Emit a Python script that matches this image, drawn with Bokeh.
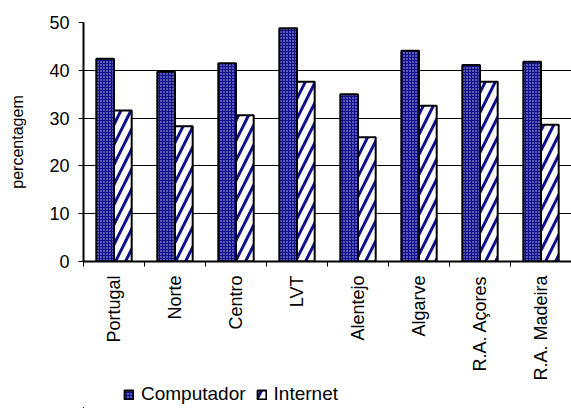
import math
from bokeh.plotting import figure
from bokeh.layouts import column
from bokeh.models import ColumnDataSource, FixedTicker, Legend, LegendItem, Range1d
from bokeh.embed import file_html
from bokeh.resources import INLINE

regions = ["Portugal", "Norte", "Centro", "LVT", "Alentejo", "Algarve", "R.A. Açores", "R.A. Madeira"]
computador = [42.4, 39.7, 41.5, 48.8, 35.0, 44.1, 41.1, 41.8]
internet = [31.6, 28.3, 30.6, 37.6, 26.0, 32.6, 37.6, 28.6]
y_ticks = [0, 10, 20, 30, 40, 50]

FONT = "Liberation Sans"
NAVY = "#10108c"

idx = list(range(len(regions)))
src = ColumnDataSource(dict(
    xc=[i - 0.145 for i in idx],
    xi=[i + 0.145 for i in idx],
    comp=computador,
    inet=internet,
))

COMP_STYLE = dict(fill_color=NAVY, hatch_pattern="dot", hatch_color="#c8c8f0",
                  hatch_scale=3, hatch_weight=1, line_color="black", line_width=2)
INET_STYLE = dict(fill_color="white", hatch_pattern="/", hatch_color=NAVY,
                  hatch_scale=20, hatch_weight=3, line_color="black", line_width=2)

p = figure(width=571, height=383, output_backend="svg", toolbar_location=None,
           x_range=Range1d(-0.5, len(regions) - 0.5), y_range=Range1d(0, 50),
           min_border_left=83, min_border_right=0, min_border_top=22, min_border_bottom=122)
p.outline_line_color = None
p.background_fill_color = "white"
p.border_fill_color = "white"

p.vbar(x="xc", top="comp", width=0.29, source=src, **COMP_STYLE)
p.vbar(x="xi", top="inet", width=0.29, source=src, **INET_STYLE)

# axes
p.xgrid.grid_line_color = None
p.ygrid.grid_line_color = "black"
p.ygrid.grid_line_width = 1
p.ygrid.ticker = FixedTicker(ticks=y_ticks)

p.yaxis.ticker = FixedTicker(ticks=y_ticks)
p.yaxis.axis_label = "percentagem"
p.yaxis.axis_label_text_font = FONT
p.yaxis.axis_label_text_font_size = "16px"
p.yaxis.axis_label_text_font_style = "normal"
p.yaxis.axis_label_text_color = "black"
p.yaxis.axis_label_standoff = 20
p.yaxis.major_label_text_font = FONT
p.yaxis.major_label_text_font_size = "18px"
p.yaxis.major_label_text_color = "black"
p.yaxis.major_label_standoff = 9
p.yaxis.axis_line_color = "black"
p.yaxis.axis_line_width = 2
p.yaxis.major_tick_line_color = "black"
p.yaxis.major_tick_out = 5
p.yaxis.major_tick_in = 0
p.yaxis.minor_tick_line_color = None

p.xaxis.ticker = FixedTicker(ticks=idx, minor_ticks=[i - 0.5 for i in range(len(regions) + 1)])
p.xaxis.major_label_overrides = {i: r for i, r in enumerate(regions)}
p.xaxis.major_label_orientation = math.pi / 2
p.xaxis.major_label_text_font = FONT
p.xaxis.major_label_text_font_size = "18px"
p.xaxis.major_label_text_color = "black"
p.xaxis.major_label_standoff = 8
p.xaxis.major_tick_line_color = None
p.xaxis.minor_tick_line_color = "black"
p.xaxis.minor_tick_out = 5
p.xaxis.minor_tick_in = 0
p.xaxis.axis_line_color = "black"
p.xaxis.axis_line_width = 2

# legend strip below the chart (its renderers lie outside its ranges, only the legend shows)
lg = figure(width=571, height=25, output_backend="svg", toolbar_location=None,
            x_range=Range1d(100, 101), y_range=Range1d(100, 101),
            x_axis_location=None, y_axis_location=None,
            min_border_left=0, min_border_right=0, min_border_top=0, min_border_bottom=0)
lg.grid.visible = False
lg.outline_line_color = None
lc = lg.vbar(x="xc", top="comp", width=0.29, source=src, **COMP_STYLE)
li = lg.vbar(x="xi", top="inet", width=0.29, source=src, **INET_STYLE)
legend = Legend(items=[LegendItem(label="Computador", renderers=[lc]),
                       LegendItem(label="Internet", renderers=[li])],
                orientation="horizontal", location=(40, 3),
                label_text_font=FONT, label_text_font_size="19px", label_text_color="black",
                glyph_width=11, glyph_height=11, label_standoff=7, spacing=10,
                padding=0, margin=0, border_line_color=None, background_fill_alpha=0)
lg.add_layout(legend, "center")

open("out.html", "w").write(file_html(column(p, lg, spacing=0), INLINE))
